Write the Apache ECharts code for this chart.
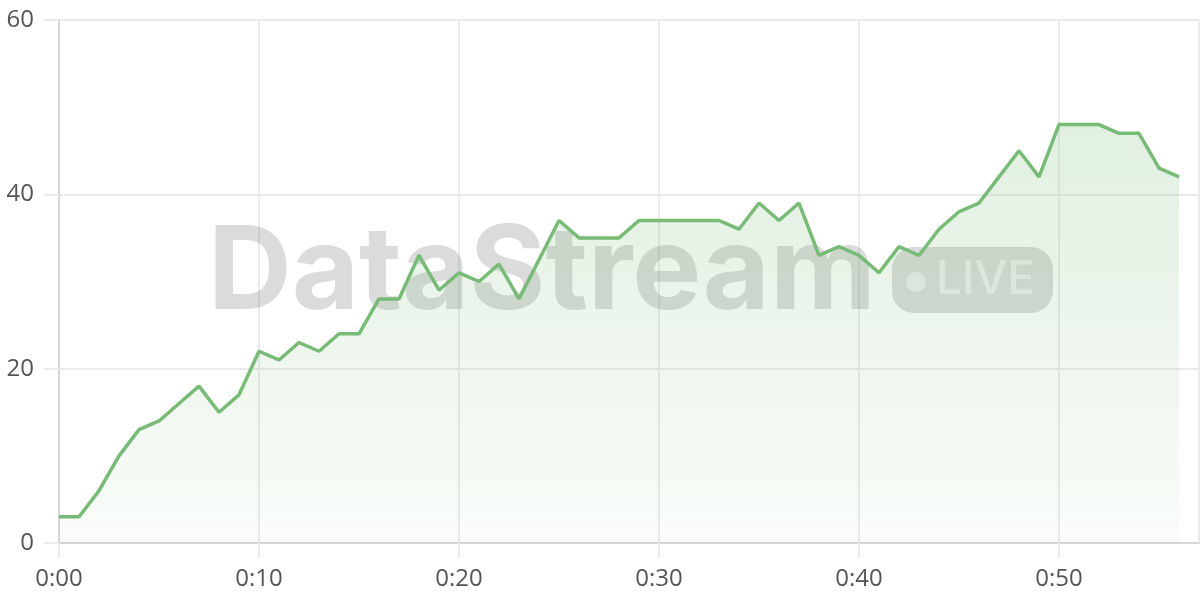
<!DOCTYPE html>
<html>
<head>
<meta charset="utf-8">
<script src="https://cdn.jsdelivr.net/npm/echarts@6/dist/echarts.min.js"></script>
<style>
  html, body { margin: 0; padding: 0; background: #fff; }
  #chart { width: 1200px; height: 600px; }
</style>
</head>
<body>
<div id="chart"></div>
<script>
// minutes since start, one reading per minute
const minutes = [];
for (let m = 0; m <= 56; m++) minutes.push(m);

const viewers = [
  3, 3, 6, 10, 13, 14, 16, 18, 15, 17,
  22, 21, 23, 22, 24, 24, 28, 28, 33, 29,
  31, 30, 32, 28, 32.5, 37, 35, 35, 35, 37,
  37, 37, 37, 37, 36, 39, 37, 39, 33, 34,
  33, 31, 34, 33, 36, 38, 39, 42, 45, 42,
  48, 48, 48, 47, 47, 43, 42
];

const yTicks = [0, 20, 40, 60];

const lineColor = '#78bb76';
const gridColor = '#ebebeb';
const axisColor = '#d6d6d6';
const labelColor = '#555';

const chart = echarts.init(document.getElementById('chart'));

chart.setOption({
  animation: false,
  grid: { left: 59, right: 1, top: 20, bottom: 57 },
  xAxis: {
    type: 'value',
    min: 0,
    max: 57,
    interval: 10,
    axisLine: { lineStyle: { color: axisColor, width: 2 } },
    axisTick: { show: true, length: 15, lineStyle: { color: gridColor, width: 2 } },
    splitLine: { show: true, lineStyle: { color: gridColor, width: 2 } },
    axisLabel: {
      color: labelColor,
      fontSize: 24,
      fontFamily: 'Open Sans',
      margin: 24,
      showMaxLabel: false,
      formatter: v => '0:' + String(v).padStart(2, '0')
    }
  },
  yAxis: {
    type: 'value',
    min: yTicks[0],
    max: yTicks[yTicks.length - 1],
    interval: 20,
    axisLine: { show: true, lineStyle: { color: axisColor, width: 2 } },
    axisTick: { show: true, length: 15, lineStyle: { color: gridColor, width: 2 } },
    splitLine: { show: true, lineStyle: { color: gridColor, width: 2 } },
    axisLabel: {
      color: labelColor,
      fontSize: 24,
      fontFamily: 'Open Sans',
      margin: 25
    }
  },
  graphic: [
    {
      type: 'text',
      z: 1,
      left: 208,
      top: 216,
      style: {
        text: 'DataStream',
        font: 'bold 116px Inter',
        fill: 'rgba(110,110,110,0.25)'
      }
    },
    {
      type: 'rect',
      z: 1,
      shape: { x: 892, y: 247, width: 161, height: 66, r: 22 },
      style: { fill: 'rgba(110,110,110,0.25)' }
    },
    {
      type: 'circle',
      z: 1,
      shape: { cx: 916, cy: 282, r: 10 },
      style: { fill: 'rgba(255,255,255,0.55)' }
    },
    {
      type: 'text',
      z: 1,
      left: 936,
      top: 257,
      style: {
        text: 'LIVE',
        font: '500 46px Inter',
        fill: 'rgba(255,255,255,0.55)'
      }
    }
  ],
  series: [{
    type: 'line',
    data: minutes.map((m, i) => [m, viewers[i]]),
    showSymbol: false,
    lineStyle: { color: lineColor, width: 3.5 },
    itemStyle: { color: lineColor },
    areaStyle: {
      color: new echarts.graphic.LinearGradient(0, 0, 0, 1, [
        { offset: 0, color: 'rgba(120,187,118,0.32)' },
        { offset: 1, color: 'rgba(120,187,118,0.06)' }
      ])
    }
  }]
});
</script>
</body>
</html>
